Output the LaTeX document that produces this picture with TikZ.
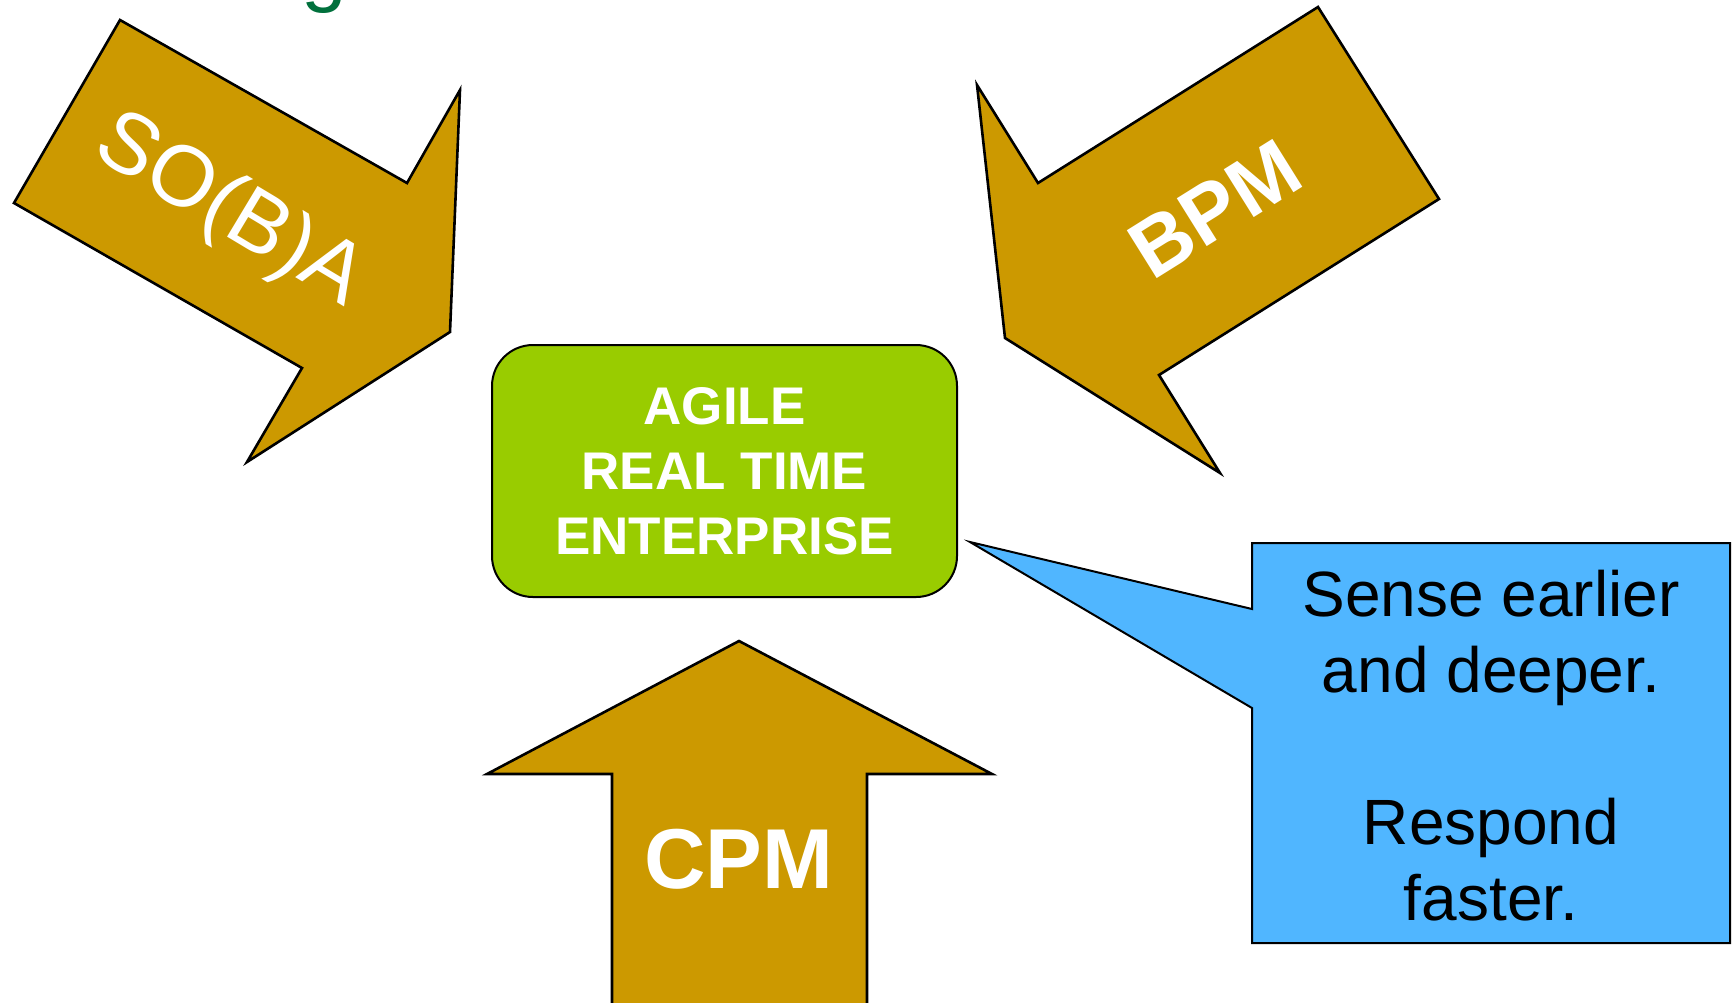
\documentclass[tikz,border=0pt]{standalone}
\usepackage{fontspec}
\setmainfont{Liberation Sans}
\definecolor{gold}{RGB}{204,153,0}
\definecolor{agile}{RGB}{153,204,0}
\definecolor{callblue}{RGB}{80,182,255}
\definecolor{titlegreen}{RGB}{0,112,60}
\begin{document}
\begin{tikzpicture}[x=0.5pt,y=-0.5pt,
  arrowshape/.style={fill=gold,draw=black,line width=1.3pt,line join=miter},
  whitebold/.style={text=white,font=\bfseries,inner sep=0pt}]
\clip (0,0) rectangle (1733,1002);
\fill[white] (0,0) rectangle (1733,1002);
% title fragment
\node[text=titlegreen,font=\fontsize{41}{48}\selectfont,anchor=base,inner sep=0pt] (title) at (324,-4) {g};
% SO(B)A arrow
\draw[arrowshape] (120,20) -- (407,183) -- (460,90) -- (450,332) -- (247,462) -- (302,368) -- (14,203) -- cycle;
\node[text=white,inner sep=0pt,rotate=-31,font=\fontsize{43}{48}\selectfont] (soba) at (229,212) {SO(B)A};
% BPM arrow
\draw[arrowshape] (1318,7) -- (1439,199) -- (1159,375) -- (1220,473) -- (1005,338) -- (977,85) -- (1038,183) -- cycle;
\node[whitebold,rotate=32,font=\bfseries\fontsize{41}{46}\selectfont] (bpm) at (1215,209) {BPM};
% CPM arrow
\draw[arrowshape] (739,641) -- (992,774) -- (867,774) -- (867,1012) -- (612,1012) -- (612,774) -- (487,774) -- cycle;
\node[whitebold,anchor=base,font=\bfseries\fontsize{42.5}{48}\selectfont] (cpm) at (739,888) {CPM};
% central box
\node[draw=black,line width=1pt,fill=agile,rounded corners=20.5pt,minimum width=232.5pt,minimum height=126pt,
      text=white,align=center,font=\bfseries\fontsize{26.5}{32.5}\selectfont] (agile) at (724.5,471)
      {AGILE\\REAL TIME\\ENTERPRISE};
% callout
\draw[fill=callblue,draw=black,line width=1pt,line join=miter] (1252,543) -- (1730,543) -- (1730,943) -- (1252,943) -- (1252,708) -- (970,542) -- (1252,609) -- cycle;
\node[align=center,inner sep=0pt,font=\fontsize{32}{38}\selectfont] (callout) at (1491,746)
      {Sense earlier\\and deeper.\\[38pt]Respond\\faster.};
\end{tikzpicture}
\end{document}
